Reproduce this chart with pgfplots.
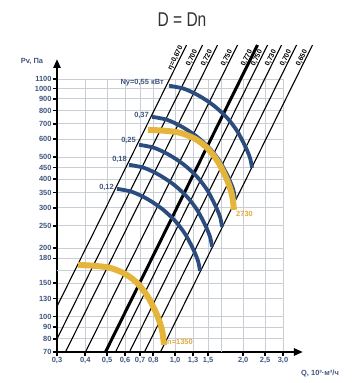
\documentclass[border=0pt]{standalone}
\usepackage{fontspec}
\setmainfont{Liberation Sans}
\usepackage{pgfplots}
\pgfplotsset{compat=1.18}
\usetikzlibrary{arrows.meta}
\definecolor{tickblue}{HTML}{3F5680}
\definecolor{curveblue}{HTML}{2B4C7E}
\definecolor{gold}{HTML}{E5B53B}
\definecolor{goldtext}{HTML}{E2A93E}
\definecolor{gridgray}{HTML}{C9CDD4}
\begin{document}
\begin{tikzpicture}
\path[use as bounding box] (-57bp,-31bp) rectangle (305bp,352bp);
\begin{axis}[
  scale only axis, width=226bp, height=273bp,
  xmode=log, ymode=log, xmin=0.3, xmax=3, ymin=70, ymax=1100,
  axis lines=left,
  axis line style={line width=2.5bp, -{Triangle[length=9bp,width=7bp]}, shorten >=-20bp},
  xtick={0.3,0.4,0.5,0.6,0.7,0.8,1,1.2,1.4,2,2.5,3},
  xticklabels={{0,3},{0,4},{0,5},{0,6},{0,7},{0,8},{1,0},{1,3},{1,5},{2,0},{2,5},{3,0}},
  ytick={70,80,90,100,120,140,180,200,250,300,350,400,450,500,600,700,800,900,1000,1100},
  yticklabels={70,80,90,100,130,150,180,200,250,300,350,400,450,500,600,700,800,900,1000,1100},
  extra x ticks={1.6}, extra x tick labels={},
  extra x tick style={major tick length=0pt},
  extra y ticks={160}, extra y tick labels={},
  extra y tick style={major tick length=0pt},
  grid=major, major grid style={gridgray, line width=0.8bp},
  tick align=outside, major tick length=4.5bp,
  tick style={black, line width=1.6bp},
  ticklabel style={font=\fontsize{7.5}{8}\selectfont\bfseries, text=tickblue},
  xticklabel style={inner sep=1bp},
  yticklabel style={inner sep=0.8bp},
  clip=false,
]
% efficiency lines
\addplot[black, line width=1.1bp] coordinates {(0.3,110.8) (1.1224,1550)};
\addplot[black, line width=1.1bp] coordinates {(0.3,79.9) (1.3214,1550)};
\addplot[black, line width=1.1bp] coordinates {(0.3271,70) (1.5393,1550)};
\addplot[black, line width=1.1bp] coordinates {(0.4011,70) (1.8876,1550)};
\addplot[black, line width=3bp] coordinates {(0.4917,70) (2.3139,1550)};
\addplot[black, line width=1.1bp] coordinates {(0.5446,70) (2.5629,1550)};
\addplot[black, line width=1.1bp] coordinates {(0.628,70) (2.9554,1550)};
\addplot[black, line width=1.1bp] coordinates {(0.7317,70) (3.4434,1550)};
\addplot[black, line width=1.1bp] coordinates {(0.861,70) (4.0519,1550)};
% power curves
\addplot[curveblue, line width=3.8bp, smooth] coordinates {(0.939,1027.6) (1.094,997.0) (1.274,929.1) (1.485,839.8) (1.696,743.8) (1.877,652.4) (2.037,560.6) (2.144,496.4) (2.188,448.9)};
\addplot[curveblue, line width=3.8bp, smooth] coordinates {(0.790,751.2) (0.920,728.8) (1.072,679.2) (1.250,613.9) (1.427,543.7) (1.579,476.9) (1.714,409.8) (1.803,362.9) (1.841,328.1)};
\addplot[curveblue, line width=3.8bp, smooth] coordinates {(0.692,566.3) (0.806,549.4) (0.939,512.0) (1.095,462.8) (1.250,409.9) (1.384,359.5) (1.501,308.9) (1.580,273.6) (1.612,247.4)};
\addplot[curveblue, line width=3.8bp, smooth] coordinates {(0.625,462.7) (0.728,448.9) (0.848,418.3) (0.989,378.1) (1.129,334.9) (1.250,293.8) (1.356,252.4) (1.427,223.5) (1.456,202.1)};
\addplot[curveblue, line width=3.8bp, smooth] coordinates {(0.553,363.1) (0.644,352.3) (0.751,328.3) (0.875,296.7) (0.999,262.8) (1.106,230.5) (1.200,198.1) (1.262,175.4) (1.288,158.6)};
% speed curves
\addplot[gold, line width=6bp, smooth] coordinates {(0.758,658.9) (0.901,652.3) (1.050,639.3) (1.224,601.7) (1.383,549.3) (1.547,476.9) (1.696,397.6) (1.784,341.7) (1.820,293.7)};
\addplot[gold, line width=6bp, smooth] coordinates {(0.3716,168.6) (0.4419,166.9) (0.5147,163.6) (0.5999,154.0) (0.6780,140.6) (0.7583,122.0) (0.8312,101.7) (0.8745,87.4) (0.8925,75.1)};
% efficiency labels
\begin{scope}[every node/.style={anchor=south, rotate=63.6, inner sep=0.6bp, font=\fontsize{7}{7}\selectfont\bfseries}]
\node at (axis cs:1.042,1336) {η=0,670};
\node at (axis cs:1.227,1336) {0,700};
\node at (axis cs:1.429,1336) {0,720};
\node at (axis cs:1.752,1336) {0,750};
\node at (axis cs:2.148,1336) {0,770};
\node at (axis cs:2.379,1336) {0,750};
\node at (axis cs:2.744,1336) {0,730};
\node at (axis cs:3.197,1336) {0,700};
\node at (axis cs:3.762,1336) {0,650};
\end{scope}
\end{axis}
\begin{scope}[every node/.style={font=\fontsize{7.5}{8}\selectfont\bfseries, text=tickblue, inner sep=0pt}]
\node[anchor=east] at (107bp,269bp) {Ny=0,55 кВт};
\node[anchor=east] at (92bp,237bp) {0,37};
\node[anchor=east] at (79bp,212bp) {0,25};
\node[anchor=east] at (70bp,193bp) {0,18};
\node[anchor=east] at (57bp,165bp) {0,12};
\node at (-25bp,290bp) {Pv, Па};
\node at (263bp,-22bp) {Q, 10³·м³/ч};
\end{scope}
\node[anchor=west, inner sep=0pt, text=goldtext, font=\fontsize{7.5}{8}\selectfont\bfseries] at (179bp,138bp) {2730};
\node[anchor=west, inner sep=0pt, text=goldtext, font=\fontsize{7.5}{8}\selectfont\bfseries] at (110bp,10bp) {n=1350};
\node[text=black!80, font=\fontsize{20}{20}\selectfont, xscale=0.78] at (125bp,332bp) {D = Dn};
\end{tikzpicture}
\end{document}
